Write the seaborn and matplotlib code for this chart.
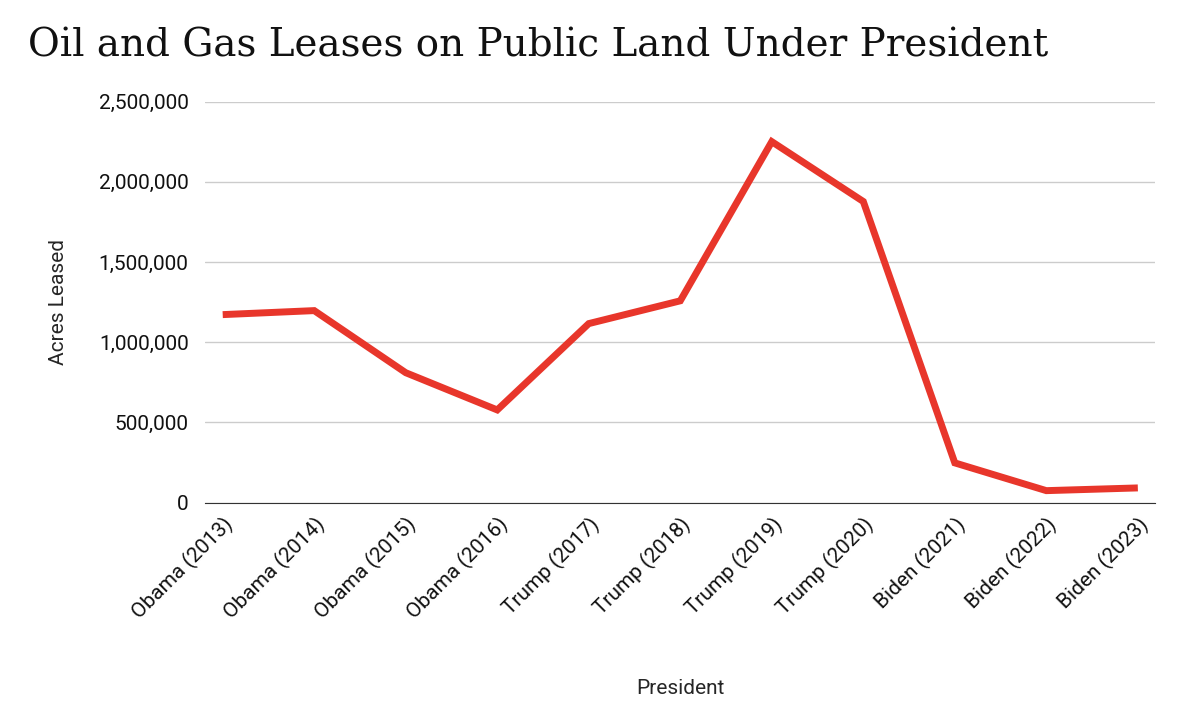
import matplotlib
matplotlib.use("Agg")
import matplotlib.pyplot as plt
import seaborn as sns
import pandas as pd
from matplotlib.ticker import FuncFormatter

presidents = ["Obama (2013)", "Obama (2014)", "Obama (2015)", "Obama (2016)",
              "Trump (2017)", "Trump (2018)", "Trump (2019)", "Trump (2020)",
              "Biden (2021)", "Biden (2022)", "Biden (2023)"]
acres = [1172000, 1197000, 810000, 578000, 1116000, 1258000,
         2250000, 1877000, 248000, 75000, 92000]

df = pd.DataFrame({"President": presidents, "Acres": acres})

sns.set_style("white")
plt.rcParams['font.family'] = ['Roboto', 'DejaVu Sans']

fig = plt.figure(figsize=(11.8, 7.1), dpi=100)
ax = fig.add_axes([0.174, 0.292, 0.805, 0.565])

ax.plot(range(len(presidents)), df["Acres"], color="#e8362b", linewidth=5,
        solid_capstyle="butt", solid_joinstyle="miter")
ax.set_xlim(-0.19, len(presidents) - 0.81)
ax.set_ylim(0, 2500000)
ax.set_yticks(range(0, 2500001, 500000))
ax.yaxis.set_major_formatter(FuncFormatter(lambda v, p: f"{int(v):,}"))
ax.set_xticks(range(len(presidents)))
ax.set_xticklabels(presidents, rotation=45, ha="right", rotation_mode="anchor")
ax.tick_params(axis="both", labelsize=15, length=0, colors="#111111")
ax.tick_params(axis="x", pad=8)
ax.tick_params(axis="y", pad=12)
ax.grid(axis="y", color="#cccccc", linewidth=1)
for s in ["top", "right", "left"]:
    ax.spines[s].set_visible(False)
ax.spines["bottom"].set_color("#333333")

ax.set_xlabel("President", fontsize=15, labelpad=40)
ax.set_ylabel("Acres Leased", fontsize=15, labelpad=22)

fig.text(0.024, 0.92, "Oil and Gas Leases on Public Land Under President",
         fontsize=28, family=["DejaVu Serif"], color="#111111")

fig.savefig("out.png", dpi=100)
